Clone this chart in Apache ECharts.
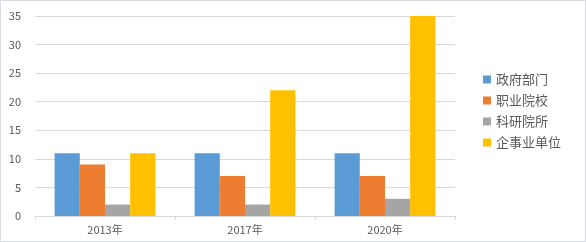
<!DOCTYPE html>
<html><head><meta charset="utf-8">
<script src="https://cdn.jsdelivr.net/npm/echarts@6/dist/echarts.min.js"></script>
<style>html,body{margin:0;padding:0;background:#fff}#c{width:586px;height:242px;box-sizing:border-box;border:1px solid #d9dde3}</style>
</head><body><div id="c"></div>
<script>
const categories = ['2013年', '2017年', '2020年'];
const seriesNames = ['政府部门', '职业院校', '科研院所', '企事业单位'];
const gov = [11, 11, 11];
const voc = [9, 7, 7];
const res = [2, 2, 3];
const ent = [11, 22, 35];
const colors = ['#5B9BD5', '#ED7D31', '#A5A5A5', '#FFC000'];
const values = [gov, voc, res, ent];
const chart = echarts.init(document.getElementById('c'));
const font = '"Microsoft YaHei","Noto Sans CJK SC",sans-serif';
chart.setOption({
  animation: false,
  color: colors,
  grid: {left: 34, right: 130, top: 15, bottom: 25, containLabel: false},
  legend: {
    orient: 'vertical', left: 477, top: 67, itemWidth: 8, itemHeight: 8, itemGap: 8,
    icon: 'rect',
    textStyle: {fontSize: 13, color: '#595959', fontFamily: font},
    data: seriesNames
  },
  xAxis: {
    type: 'category', data: categories,
    axisLine: {lineStyle: {color: '#d9d9d9'}},
    axisTick: {show: true, length: 4, lineStyle: {color: '#d9d9d9'}},
    axisLabel: {color: '#595959', fontSize: 11, fontFamily: font, margin: 8}
  },
  yAxis: {
    type: 'value', min: 0, max: 35, interval: 5,
    axisLine: {show: false}, axisTick: {show: false},
    axisLabel: {color: '#595959', fontSize: 11, fontFamily: font, margin: 14},
    splitLine: {lineStyle: {color: '#d9d9d9'}}
  },
  series: seriesNames.map((n, i) => ({
    name: n, type: 'bar', data: values[i], barGap: '0%', barCategoryGap: '28%'
  }))
});
</script></body></html>
